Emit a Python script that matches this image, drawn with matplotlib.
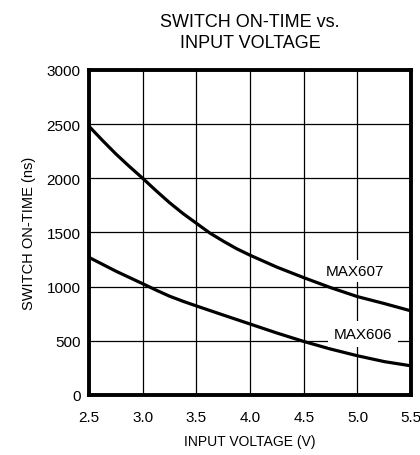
import matplotlib
matplotlib.use("Agg")
from matplotlib import pyplot as plt

# values
v607 = [2.5, 2.625, 2.75, 2.875, 3.0, 3.125, 3.25, 3.375, 3.5, 3.625, 3.75, 3.875,
        4.0, 4.25, 4.5, 4.75, 5.0, 5.25, 5.5]
max607 = [2480, 2350, 2225, 2110, 2000, 1885, 1775, 1675, 1585, 1495, 1420, 1350,
          1290, 1180, 1083, 991, 908, 844, 776]
v606 = [2.5, 2.75, 3.0, 3.125, 3.25, 3.375, 3.5, 3.75, 4.0, 4.25, 4.5, 4.75, 5.0, 5.25, 5.5]
max606 = [1270, 1143, 1027, 968, 912, 865, 822, 738, 655, 572, 494, 424, 362, 308, 269]
xticks = [2.5, 3.0, 3.5, 4.0, 4.5, 5.0, 5.5]
yticks = [0, 500, 1000, 1500, 2000, 2500, 3000]

plt.rcParams['font.family'] = ['Liberation Sans', 'DejaVu Sans']

fig = plt.figure(figsize=(4.2, 4.56), dpi=100)
ax = fig.add_axes([0.212, 0.1316, 0.767, 0.7127])

ax.plot(v607, max607, color='black', lw=2.3, solid_capstyle='butt', zorder=3)
ax.plot(v606, max606, color='black', lw=2.3, solid_capstyle='butt', zorder=3)

ax.set_xlim(2.5, 5.5)
ax.set_ylim(0, 3000)
ax.set_xticks(xticks)
ax.set_xticklabels(['%.1f' % v for v in xticks])
ax.set_yticks(yticks)
ax.tick_params(length=0, labelsize=11)
ax.tick_params(axis='y', pad=6)
ax.tick_params(axis='x', pad=11)
ax.grid(True, color='black', lw=0.9)
ax.set_axisbelow(True)
for s in ax.spines.values():
    s.set_linewidth(2.8)

ax.text(4.98, 1145, 'MAX607', fontsize=11, ha='center', va='center', zorder=4,
        bbox=dict(facecolor='white', edgecolor='none', pad=3))
ax.text(5.05, 561, 'MAX606', fontsize=11, ha='center', va='center', zorder=4,
        bbox=dict(facecolor='white', edgecolor='none', pad=4.3))

ax.set_xlabel('INPUT VOLTAGE (V)', fontsize=10, labelpad=7)
ax.set_ylabel('SWITCH ON-TIME (ns)', fontsize=10.5, labelpad=8)
fig.text(0.595, 0.928, 'SWITCH ON-TIME vs.\nINPUT VOLTAGE', fontsize=13,
         ha='center', va='center', linespacing=1.35)

fig.savefig('out.png', dpi=100)
